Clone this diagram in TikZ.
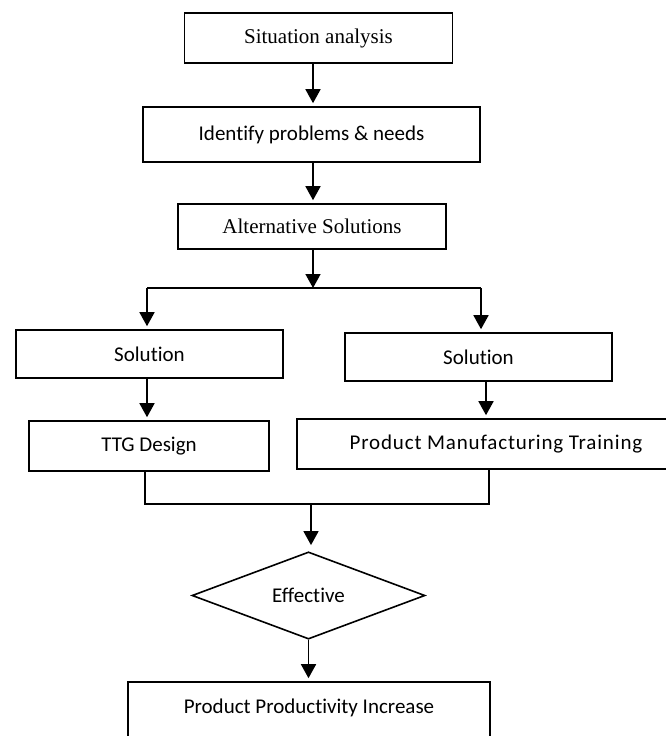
\documentclass[tikz,border=0pt]{standalone}
\usepackage{fontspec}
\setmainfont{Carlito}[Ligatures=CommonOff]
\newfontfamily\tnr{Liberation Serif}
\usetikzlibrary{arrows.meta,shapes.geometric}
\begin{document}
\begin{tikzpicture}[x=1pt,y=-1pt,
  box/.style={draw=black,line width=1.6pt,rectangle,inner sep=0pt,
    font=\fontsize{21}{25}\selectfont,fill=white},
  serifbox/.style={box,font=\fontsize{21}{25}\selectfont\tnr},
  conn/.style={line width=1.6pt},
  arr/.style={conn,-{Triangle[width=15pt,length=14pt]},shorten >=3pt}]
\useasboundingbox (0,0) rectangle (665,736);
% nodes
\node[serifbox,minimum width=268pt,minimum height=50pt] (b1) at (318.5,38) {Situation analysis};
\node[box,minimum width=337pt,minimum height=55pt] (b2) at (311.5,134.5) {Identify problems \& needs};
\node[serifbox,minimum width=268pt,minimum height=45pt] (b3) at (312,226.5) {Alternative Solutions};
\node[box,minimum width=267pt,minimum height=48pt] (s1) at (149.5,354) {Solution};
\node[box,minimum width=267pt,minimum height=48pt] (s2) at (478.5,357) {Solution};
\node[box,minimum width=240pt,minimum height=50pt] (t1) at (149,446) {TTG Design};
\node[box,minimum width=398pt,minimum height=50pt] (t2) at (496,444) {\addfontfeatures{LetterSpace=4}Product Manufacturing Training};
\node[box,diamond,minimum width=233pt,minimum height=87pt] (d) at (308.5,595.5) {Effective};
\node[box,minimum width=362pt,minimum height=58pt] (b8) at (309,711) {};
\node[font=\fontsize{21}{25}\selectfont] (b8t) at (309,708) {Product Productivity Increase};
% coordinates
\coordinate (cx) at (313,0);
\coordinate (j) at (313,288);
\coordinate (jl) at (147,288);
\coordinate (jr) at (481,288);
\coordinate (rx) at (486,0);
\coordinate (ml) at (145,504);
\coordinate (mr) at (489,504);
\coordinate (mc) at (311,504);
% connectors
\draw[arr] (b1.south -| cx) -- (b2.north -| cx);
\draw[arr] (b2.south -| cx) -- (b3.north -| cx);
\draw[arr,shorten >=0pt] (b3.south -| cx) -- (j);
\draw[conn] (jl) -- (jr);
\draw[arr] (jl) -- (s1.north -| jl);
\draw[arr] (jr) -- (s2.north -| jr);
\draw[arr] (s1.south -| jl) -- (t1.north -| jl);
\draw[arr] (s2.south -| rx) -- (t2.north -| rx);
\draw[conn] (t1.south -| ml) -- (ml) -- (mr) -- (t2.south -| mr);
\draw[arr,shorten >=6pt] (mc) -- (mc |- d.north);
\draw[arr] (d.south) -- (d.south |- b8.north);
\end{tikzpicture}
\end{document}
